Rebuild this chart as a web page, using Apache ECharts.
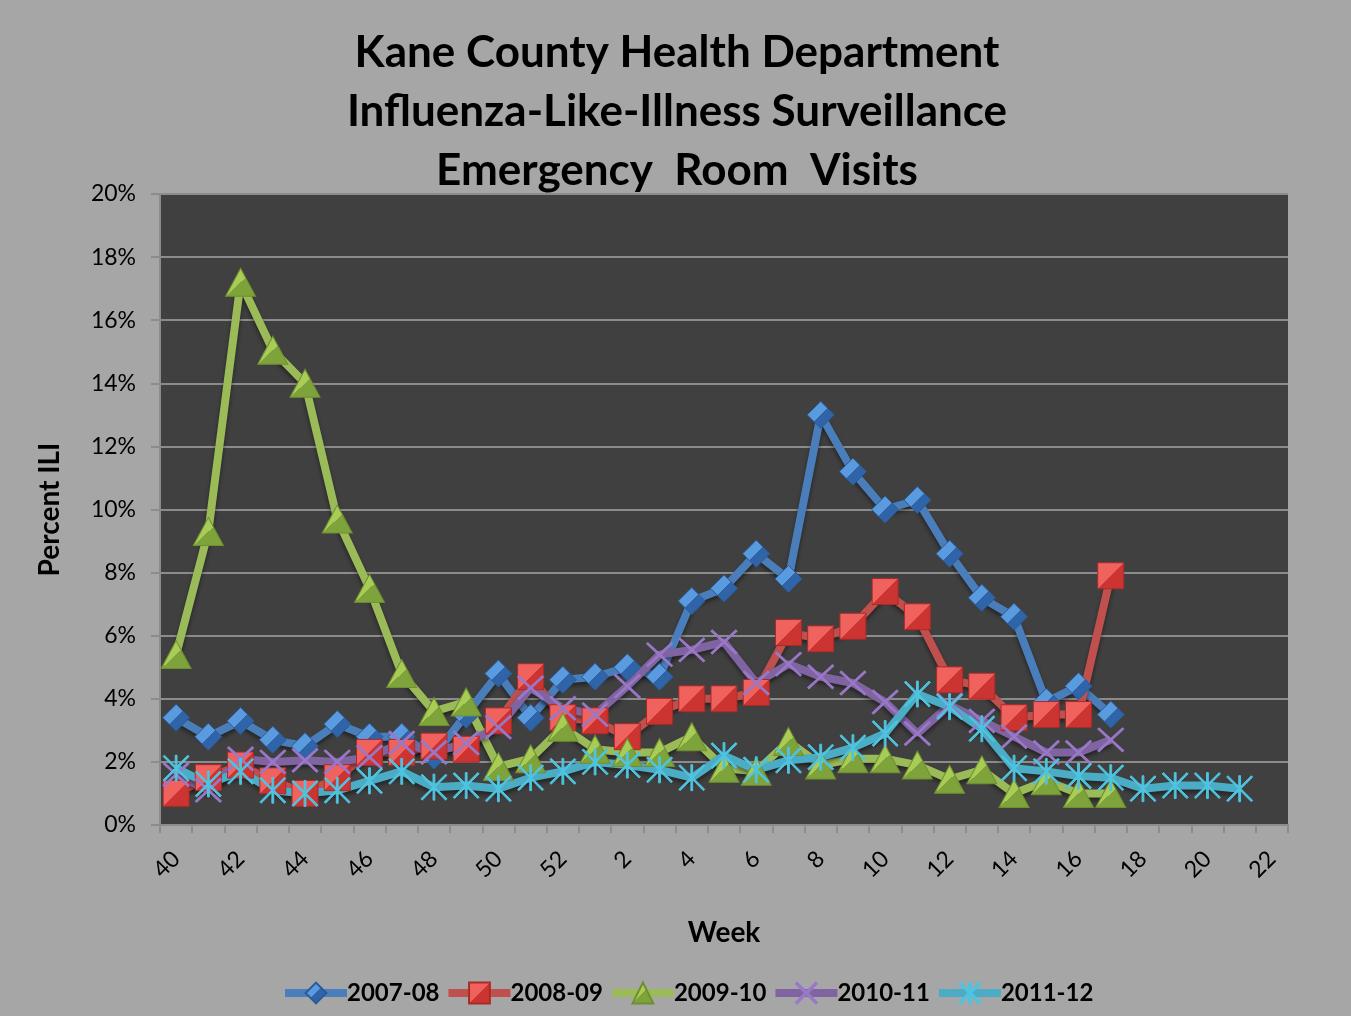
<!DOCTYPE html>
<html>
<head>
<meta charset="utf-8">
<script src="https://cdn.jsdelivr.net/npm/echarts@6/dist/echarts.min.js"></script>
<style>
  html, body { margin: 0; padding: 0; background: #a6a6a6; }
  #chart { width: 1351px; height: 1016px; }
</style>
</head>
<body>
<div id="chart"></div>
<script>
// week numbers on the x axis (flu season runs from week 40 into the next year)
var weeks = ['40','41','42','43','44','45','46','47','48','49','50','51','52',
  '1','2','3','4','5','6','7','8','9','10','11','12','13','14','15','16','17','18','19','20','21','22']

var seriesNames = ['2007-08', '2008-09', '2009-10', '2010-11', '2011-12']

// percent ILI
var s0708 = [3.4, 2.8, 3.3, 2.7, 2.5, 3.2, 2.8, 2.8, 2.2, 3.5, 4.8, 3.4, 4.6, 4.7, 5.0, 4.7, 7.1, 7.5, 8.6, 7.8,
  13.0, 11.2, 10.0, 10.3, 8.6, 7.2, 6.6, 3.9, 4.4, 3.5]
var s0809 = [1.0, 1.5, 1.9, 1.4, 1.0, 1.5, 2.3, 2.3, 2.5, 2.4, 3.3, 4.7, 3.4, 3.3, 2.8, 3.6, 4.0, 4.0, 4.2, 6.1,
  5.9, 6.3, 7.4, 6.6, 4.6, 4.4, 3.4, 3.5, 3.5, 7.9]
var s0910 = [5.4, 9.3, 17.2, 15.05, 14.0, 9.7, 7.5, 4.8, 3.6, 3.9, 1.85, 2.1, 3.1, 2.4, 2.3, 2.3, 2.8, 1.8, 1.7, 2.65,
  1.9, 2.1, 2.1, 1.9, 1.45, 1.75, 1.0, 1.4, 1.0, 1.0]
var s1011 = [1.6, 1.1, 2.1, 2.0, 2.05, 2.0, 2.15, 2.6, 2.3, 2.6, 3.1, 4.35, 3.7, 3.5, 4.4, 5.4, 5.55, 5.8, 4.5, 5.1,
  4.7, 4.5, 3.9, 2.9, 3.8, 3.3, 2.8, 2.3, 2.3, 2.7]
var s1112 = [1.8, 1.3, 1.7, 1.1, 1.0, 1.1, 1.4, 1.7, 1.2, 1.25, 1.15, 1.5, 1.7, 2.0, 1.9, 1.75, 1.5, 2.2, 1.75, 2.05,
  2.15, 2.45, 2.9, 4.15, 3.75, 3.05, 1.8, 1.7, 1.55, 1.5, 1.15, 1.25, 1.25, 1.15]

var yTicks = [0, 2, 4, 6, 8, 10, 12, 14, 16, 18, 20]

// thin X and asterisk markers
var xMark = 'path://M0,1 L1,0 L10,9 L19,0 L20,1 L11,10 L20,19 L19,20 L10,11 L1,20 L0,19 L9,10 Z'
var starMark = 'path://M0,1 L1,0 L10,9 L19,0 L20,1 L11,10 L20,19 L19,20 L10,11 L1,20 L0,19 L9,10 Z M9.3,0 L10.7,0 L10.7,20 L9.3,20 Z'

var font = 'Lato, "Open Sans", sans-serif'

function grad(light, dark) {
  return new echarts.graphic.LinearGradient(0, 0, 1, 1, [
    { offset: 0, color: light },
    { offset: 0.5, color: light },
    { offset: 0.5, color: dark },
    { offset: 1, color: dark }
  ])
}

function makeSeries(name, data, lineColor, symbol, size, markColor, border) {
  return {
    name: name,
    type: 'line',
    data: data,
    symbol: symbol,
    symbolSize: size,
    showAllSymbol: true,
    lineStyle: {
      width: 8,
      color: lineColor,
      shadowColor: 'rgba(0,0,0,0.45)',
      shadowBlur: 4,
      shadowOffsetY: 3
    },
    itemStyle: {
      color: markColor,
      borderColor: border,
      borderWidth: 1
    },
    emphasis: { disabled: true }
  }
}

var chart = echarts.init(document.getElementById('chart'))
chart.setOption({
  backgroundColor: '#a6a6a6',
  animation: false,
  title: {
    text: 'Kane County Health Department\nInfluenza-Like-Illness Surveillance\nEmergency  Room  Visits',
    left: 672,
    textAlign: 'center',
    top: 18,
    textStyle: {
      fontFamily: font,
      fontSize: 44,
      fontWeight: 'bold',
      lineHeight: 59,
      color: '#000'
    }
  },
  legend: {
    bottom: 6,
    left: 276,
    itemWidth: 62,
    itemHeight: 26,
    itemGap: 5,
    lineStyle: { width: 8, shadowBlur: 0 },
    textStyle: { fontFamily: font, fontSize: 24, fontWeight: 'bold', color: '#000', padding: [0, 0, 0, -5] },
    data: seriesNames
  },
  grid: {
    left: 160,
    right: 63,
    top: 194,
    bottom: 191,
    show: true,
    backgroundColor: '#404040',
    borderWidth: 0
  },
  xAxis: {
    type: 'category',
    data: weeks,
    boundaryGap: true,
    name: 'Week',
    nameLocation: 'middle',
    nameGap: 94,
    nameTextStyle: { fontFamily: font, fontSize: 28, fontWeight: 'bold', color: '#000' },
    axisLine: { lineStyle: { color: '#8c8c8c', width: 2 } },
    axisTick: { show: true, interval: 0, length: 8, lineStyle: { color: '#8c8c8c', width: 2 } },
    axisLabel: {
      interval: 1,
      rotate: 45,
      margin: 30,
      fontFamily: font,
      fontSize: 23,
      color: '#000'
    }
  },
  yAxis: {
    type: 'value',
    min: yTicks[0],
    max: yTicks[yTicks.length - 1],
    interval: 2,
    name: 'Percent ILI',
    nameLocation: 'middle',
    nameGap: 96,
    nameTextStyle: { fontFamily: font, fontSize: 28, fontWeight: 'bold', color: '#000' },
    axisLine: { show: true, lineStyle: { color: '#8c8c8c', width: 2 } },
    axisTick: { show: true, length: 9, lineStyle: { color: '#8c8c8c', width: 2 } },
    axisLabel: {
      margin: 24,
      fontFamily: font,
      fontSize: 23,
      color: '#000',
      formatter: '{value}%'
    },
    splitLine: { lineStyle: { color: '#8c8c8c', width: 2 } }
  },
  series: [
    makeSeries(seriesNames[0], s0708, '#4a7ebb', 'diamond', [27, 27], grad('#5a9be0', '#2f64a8'), '#2a5a98'),
    makeSeries(seriesNames[1], s0809, '#c0504d', 'rect', [26, 26], grad('#f0625e', '#cc3431'), '#a82b28'),
    makeSeries(seriesNames[2], s0910, '#9bbb59', 'triangle', [30, 28], grad('#a8cc55', '#7ea33a'), '#6e8f30'),
    makeSeries(seriesNames[3], s1011, '#8064a2', xMark, [26, 24], '#9a78c8', '#9a78c8'),
    makeSeries(seriesNames[4], s1112, '#4bacc6', starMark, [26, 26], '#4fc3df', '#4fc3df')
  ]
})
</script>
</body>
</html>
